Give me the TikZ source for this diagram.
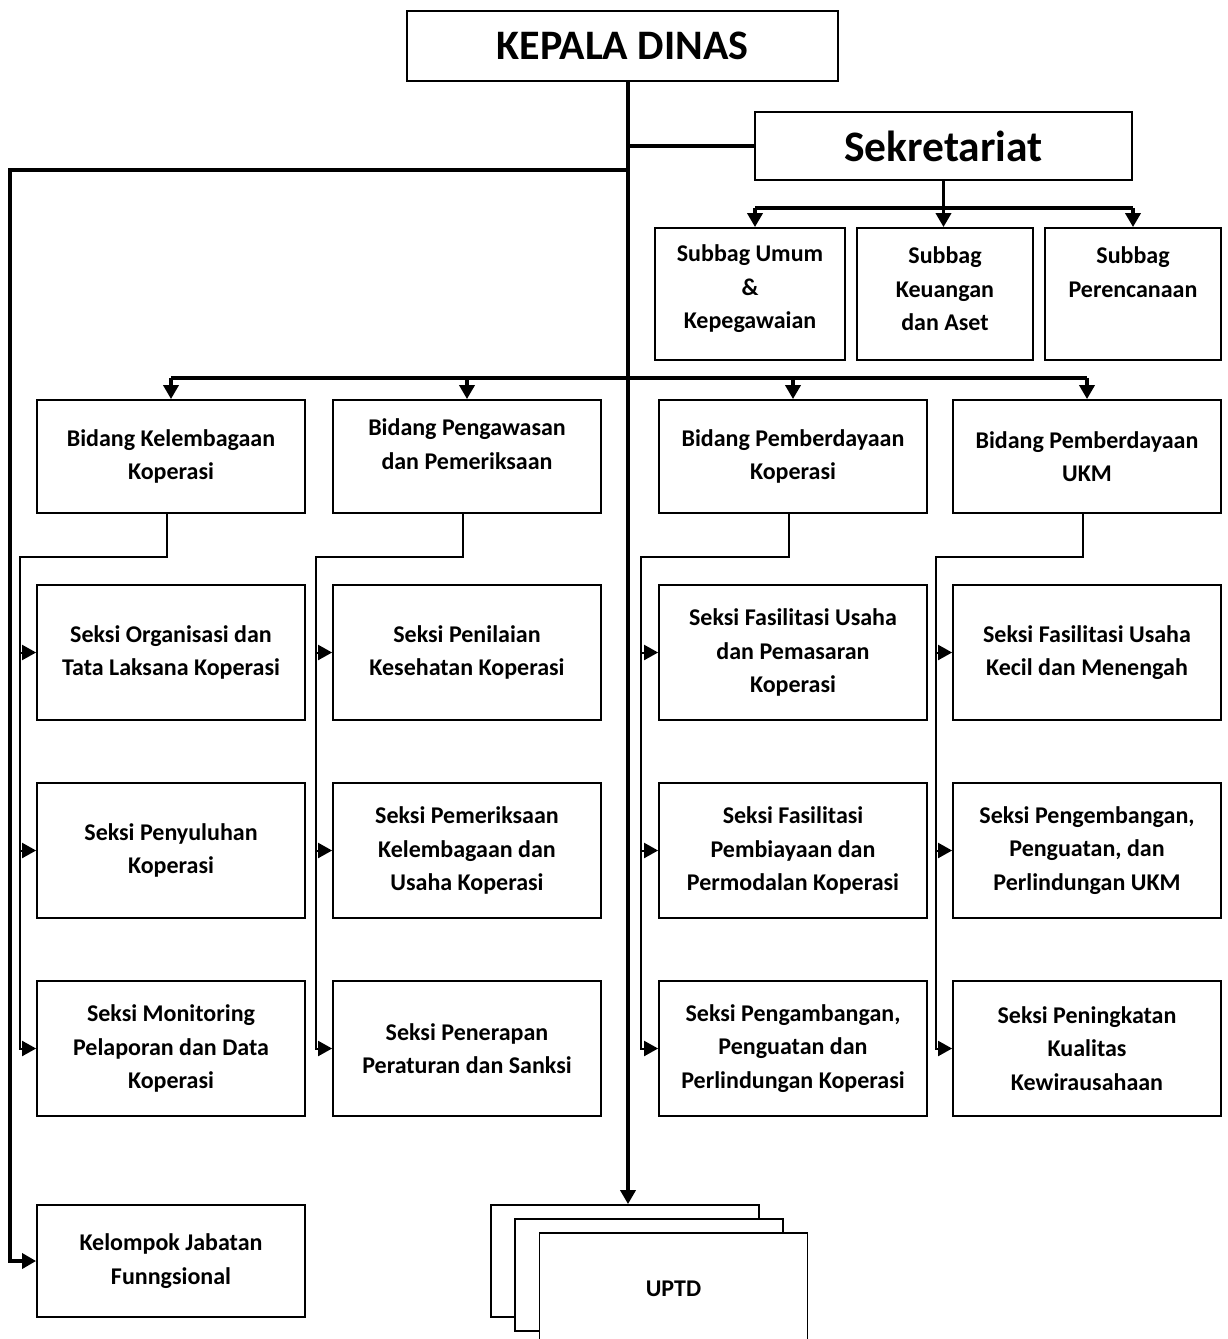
\documentclass[tikz,border=0pt]{standalone}
\usepackage{fontspec}
\setmainfont{Carlito}
\usetikzlibrary{arrows.meta}
\tikzset{
  txt/.style={align=center, font=\bfseries\fontsize{24}{33.5}\selectfont, inner sep=0pt},
  box/.style={draw, line width=1.8pt, fill=white, txt},
  bigbox/.style={draw, line width=1.8pt, fill=white, align=center, inner sep=0pt, font=\bfseries\fontsize{42}{50}\selectfont},
  main/.style={line width=3.5pt},
  con/.style={line width=2pt},
  arr/.style={-{Triangle[length=14pt,width=15pt]}},
  bid/.style={box, minimum width=268pt, minimum height=113pt},
  sek/.style={box, minimum width=268pt, minimum height=135pt},
}
\begin{document}
\begin{tikzpicture}[x=1pt,y=-1pt]
\useasboundingbox (0,0) rectangle (1228,1339);
% top
\node[bigbox, minimum width=431pt, minimum height=70pt] (kd) at (622.5,46) {KEPALA DINAS};
\node[bigbox, minimum width=377pt, minimum height=68pt, font=\bfseries\fontsize{43.5}{50}\selectfont] (sk) at (943.5,146) {Sekretariat};
% subbag
\node[box, minimum width=190pt, minimum height=132pt, label={[txt,yshift=5pt]center:{Subbag Umum\\\&\\Kepegawaian}}] (s1) at (750,294) {};
\node[box, minimum width=176pt, minimum height=132pt, label={[txt,yshift=5pt]center:{Subbag\\Keuangan\\dan Aset}}] (s2) at (945,294) {};
\node[box, minimum width=176pt, minimum height=132pt, label={[txt,yshift=22pt]center:{Subbag\\Perencanaan}}] (s3) at (1133,294) {};
% bidang
\node[bid] (b1) at (171,456.5) {Bidang Kelembagaan\\Koperasi};
\node[bid, label={[txt,yshift=12.5pt]center:{Bidang Pengawasan\\dan Pemeriksaan}}] (b2) at (467,456.5) {};
\node[bid] (b3) at (793,456.5) {Bidang Pemberdayaan\\Koperasi};
\node[bid] (b4) at (1087,456.5) {Bidang Pemberdayaan\\UKM};
% seksi row 1
\node[sek] (c11) at (171,652.5) {Seksi Organisasi dan\\Tata Laksana Koperasi};
\node[sek] (c21) at (467,652.5) {Seksi Penilaian\\Kesehatan Koperasi};
\node[sek] (c31) at (793,652.5) {Seksi Fasilitasi Usaha\\dan Pemasaran\\Koperasi};
\node[sek] (c41) at (1087,652.5) {Seksi Fasilitasi Usaha\\Kecil dan Menengah};
% row 2
\node[sek] (c12) at (171,850.5) {Seksi Penyuluhan\\Koperasi};
\node[sek] (c22) at (467,850.5) {Seksi Pemeriksaan\\Kelembagaan dan\\Usaha Koperasi};
\node[sek] (c32) at (793,850.5) {Seksi Fasilitasi\\Pembiayaan dan\\Permodalan Koperasi};
\node[sek] (c42) at (1087,850.5) {Seksi Pengembangan,\\Penguatan, dan\\Perlindungan UKM};
% row 3
\node[sek] (c13) at (171,1048.5) {Seksi Monitoring\\Pelaporan dan Data\\Koperasi};
\node[sek] (c23) at (467,1048.5) {Seksi Penerapan\\Peraturan dan Sanksi};
\node[sek] (c33) at (793,1048.5) {Seksi Pengambangan,\\Penguatan dan\\Perlindungan Koperasi};
\node[sek] (c43) at (1087,1048.5) {Seksi Peningkatan\\Kualitas\\Kewirausahaan};
% kelompok
\node[box, minimum width=268pt, minimum height=112pt] (kel) at (171,1261) {Kelompok Jabatan\\Funngsional};
% UPTD stack
\node[box, minimum width=268pt, minimum height=112pt] (u1) at (625,1261) {};
\node[box, minimum width=268pt, minimum height=112pt] (u2) at (649,1275) {};
\node[box, minimum width=268pt, minimum height=112pt] (u3) at (673.5,1289) {UPTD};

% coordinates
\coordinate (tt) at (628,80);
\coordinate (ts) at (628,146);
\coordinate (tl) at (628,170);
\coordinate (lb) at (10,170);
\coordinate (hb) at (628,378);
\coordinate (sj) at (943.5,208);

% main trunk
\draw[main,arr] (tt) -- (tt |- u1.north);
\draw[main] (ts) -- (sk.west);
\draw[main,arr] (tl) -- (lb) |- (kel.west);
% sekretariat
\draw[main] (sk.south) -- (sj);
\draw[main] ([xshift=5pt]s1.north |- sj) -- (s3.north |- sj);
\draw[main,arr] ([xshift=5pt]s1.north |- sj) -- ([xshift=5pt]s1.north);
\draw[main,arr] (sj) -- (s2.north -| sj);
\draw[main,arr] (s3.north |- sj) -- (s3.north);
% bidang
\draw[main] (b1.north |- hb) -- (b4.north |- hb);
\foreach \b in {b1,b2,b3,b4}{
  \draw[main,arr] (\b.north |- hb) -- (\b.north);
}
% columns
\coordinate (j1) at (20,557);
\coordinate (j2) at (316,557);
\coordinate (j3) at (641,557);
\coordinate (j4) at (936,557);
\foreach \i in {1,2,3,4}{
  \draw[con,arr] ([xshift=-4pt]b\i.south) |- (j\i) |- (c\i3.west);
  \draw[con,arr] (j\i |- c\i1.west) -- (c\i1.west);
  \draw[con,arr] (j\i |- c\i2.west) -- (c\i2.west);
}
\end{tikzpicture}
\end{document}
